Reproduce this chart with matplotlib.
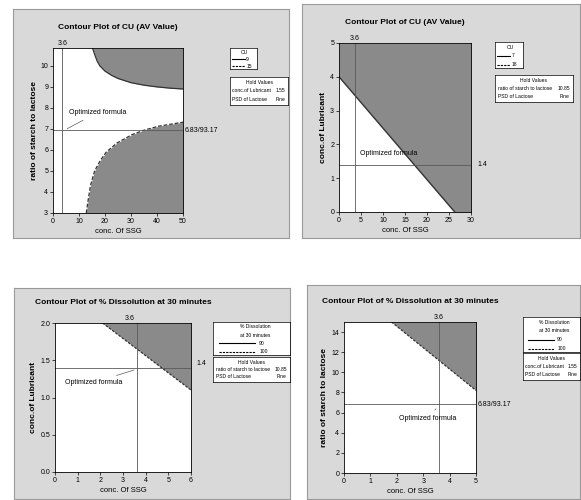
import matplotlib
matplotlib.use('Agg')
import matplotlib.pyplot as plt

W, H = 581, 500
plt.rcParams['font.family'] = ['Liberation Sans', 'DejaVu Sans']

# panel 1 - CU (AV value), ratio vs conc. of SSG
p1_upper_x = [15.2, 16, 17, 18, 20, 22.5, 25, 30, 35, 40, 45, 50]
p1_upper_y = [10.85, 10.55, 10.22, 10.0, 9.75, 9.55, 9.4, 9.2, 9.08, 9.0, 8.94, 8.9]
p1_lower_x = [12.8, 13.5, 14.4, 16, 18.2, 20.5, 24.6, 30.4, 35, 40.6, 50]
p1_lower_y = [3.0, 3.6, 4.3, 5.0, 5.5, 5.9, 6.33, 6.73, 6.94, 7.13, 7.32]

# panel 2 - CU (AV value), lubricant vs conc. of SSG
p2_bound_x = [0, 26.3, 30]
p2_bound_y = [4.0, 0.0, 0.0]

# panel 3 - dissolution, lubricant vs conc. of SSG
p3_bound_x = [2.1, 6.0]
p3_bound_y = [2.0, 1.1]

# panel 4 - dissolution, ratio vs conc. of SSG
p4_bound_x = [1.8, 5.0]
p4_bound_y = [15.0, 8.2]

opt_ssg = 3.6
opt_lub = 1.4
opt_ratio = 6.85

titles = ['Contour Plot of CU (AV Value)', 'Contour Plot of CU (AV Value)',
          'Contour Plot of % Dissolution at 30 minutes', 'Contour Plot of % Dissolution at 30 minutes']

SHADE = '#8a8a8a'
LINE = '#5a5a5a'


def box(x0, y0, x1, y1):
    return [x0 / W, 1 - y1 / H, (x1 - x0) / W, (y1 - y0) / H]


fig = plt.figure(figsize=(W / 100, H / 100), dpi=100)
fig.patch.set_facecolor('white')

# grey panel backgrounds
for b in [(13, 9, 289, 238), (302, 4, 580, 238), (14, 288, 290, 499), (307, 285, 580, 499)]:
    bg = fig.add_axes(box(*b), zorder=0)
    bg.set_facecolor('#d9d9d9')
    bg.set_xticks([])
    bg.set_yticks([])
    for s in bg.spines.values():
        s.set_color('#9a9a9a')
        s.set_linewidth(0.8)


def style(ax, title, xlabel, ylabel):
    ax.set_facecolor('white')
    ax.tick_params(labelsize=5, length=2, width=0.5, pad=1.5)
    for s in ax.spines.values():
        s.set_linewidth(0.6)
    ax.set_xlabel(xlabel, fontsize=5.5, labelpad=2)
    ax.set_ylabel(ylabel, fontsize=6, fontweight='bold', labelpad=2)
    ax.set_title(title, fontsize=6, fontweight='bold', pad=14)


def legend_box(rect, lines, hold):
    lb = fig.add_axes(box(*rect[0]), zorder=3)
    lb.set_xlim(0, 1)
    lb.set_ylim(0, 1)
    lb.set_xticks([])
    lb.set_yticks([])
    for s in lb.spines.values():
        s.set_linewidth(0.5)
    n = len(lines)
    for i, (txt, ls) in enumerate(lines):
        y = 1 - (i + 0.6) / n
        if ls:
            lb.plot([0.08, 0.55], [y, y], color='k', lw=0.8, ls=ls)
            lb.text(0.6, y, txt, fontsize=3.6, va='center', ha='left')
        else:
            lb.text(0.55, y, txt, fontsize=3.6, va='center', ha='center')
    hb = fig.add_axes(box(*rect[1]), zorder=3)
    hb.set_xlim(0, 1)
    hb.set_ylim(0, 1)
    hb.set_xticks([])
    hb.set_yticks([])
    for s in hb.spines.values():
        s.set_linewidth(0.5)
    hb.text(0.5, 0.8, 'Hold Values', fontsize=3.6, ha='center', va='center')
    for i, (k, v) in enumerate(hold):
        y = 0.5 - i * 0.3
        hb.text(0.04, y, k, fontsize=3.6, va='center', ha='left')
        hb.text(0.96, y, v, fontsize=3.6, va='center', ha='right')


# ---- panel 1
ax1 = fig.add_axes(box(53, 48, 183, 213), zorder=2)
ax1.fill_between(p1_upper_x, p1_upper_y, 10.85, color=SHADE, lw=0)
ax1.fill_between(p1_lower_x, 3, p1_lower_y, color=SHADE, lw=0)
ax1.plot(p1_upper_x, p1_upper_y, color='#333333', lw=0.9)
ax1.plot(p1_lower_x, p1_lower_y, color='#333333', lw=0.9, ls=(0, (3, 1.5)))
ax1.axvline(opt_ssg, color=LINE, lw=0.6)
ax1.plot([0, 50], [6.93, 6.93], color=LINE, lw=0.6)
ax1.set_xlim(0, 50)
ax1.set_ylim(3, 10.85)
ax1.set_xticks([0, 10, 20, 30, 40, 50])
ax1.set_yticks([3, 4, 5, 6, 7, 8, 9, 10])
ax1.text(opt_ssg, 10.9, '3.6', fontsize=5, ha='center', va='bottom')
ax1.text(50.5, 6.93, '6.83/93.17', fontsize=5, ha='left', va='center')
ax1.annotate('Optimized formula', xy=(4.5, 6.95), xytext=(6, 7.7), fontsize=5,
             arrowprops=dict(arrowstyle='-', color=LINE, lw=0.5))
style(ax1, titles[0], 'conc. Of SSG', 'ratio of starch to lactose')
legend_box([(230, 48, 257, 69), (230, 77, 288, 105)],
           [('CU', None), ('9', '-'), ('15', (0, (2, 1)))],
           [('conc.of Lubricant', '1.55'), ('PSD of Lactose', 'Fine')])

# ---- panel 2
ax2 = fig.add_axes(box(339, 43, 471, 212), zorder=2)
ax2.fill_between(p2_bound_x, p2_bound_y, 5, color=SHADE, lw=0)
ax2.plot(p2_bound_x[:2], p2_bound_y[:2], color='#333333', lw=1.0)
ax2.axvline(opt_ssg, color=LINE, lw=0.6)
ax2.plot([0, 30], [opt_lub, opt_lub], color=LINE, lw=0.6)
ax2.set_xlim(0, 30)
ax2.set_ylim(0, 5)
ax2.set_xticks([0, 5, 10, 15, 20, 25, 30])
ax2.set_yticks([0, 1, 2, 3, 4, 5])
ax2.text(opt_ssg, 5.02, '3.6', fontsize=5, ha='center', va='bottom')
ax2.text(31.5, opt_lub, '1.4', fontsize=5, ha='left', va='center')
ax2.text(4.8, 1.72, 'Optimized formula', fontsize=5, ha='left', va='center')
style(ax2, titles[1], 'conc. Of SSG', 'conc.of Lubricant')
legend_box([(495, 42, 523, 68), (495, 75, 573, 102)],
           [('CU', None), ('7', '-'), ('18', (0, (2, 1)))],
           [('ratio of starch to lactose', '10.85'), ('PSD of Lactose', 'Fine')])

# ---- panel 3
ax3 = fig.add_axes(box(55, 323, 191, 472), zorder=2)
ax3.fill_between(p3_bound_x, p3_bound_y, 2.0, color=SHADE, lw=0)
ax3.plot(p3_bound_x, p3_bound_y, color='#333333', lw=0.9, ls=(0, (2, 1.2)))
ax3.axvline(opt_ssg, color=LINE, lw=0.6)
ax3.plot([0, 6], [opt_lub, opt_lub], color=LINE, lw=0.6)
ax3.set_xlim(0, 6)
ax3.set_ylim(0, 2)
ax3.set_xticks([0, 1, 2, 3, 4, 5, 6])
ax3.set_yticks([0, 0.5, 1.0, 1.5, 2.0])
ax3.set_yticklabels(['0.0', '0.5', '1.0', '1.5', '2.0'])
ax3.text(3.3, 2.01, '3.6', fontsize=5, ha='center', va='bottom')
ax3.text(6.25, 1.45, '1.4', fontsize=5, ha='left', va='center')
ax3.annotate('Optimized formula', xy=(opt_ssg, 1.38), xytext=(0.45, 1.2), fontsize=5,
             va='center', arrowprops=dict(arrowstyle='-', color=LINE, lw=0.5))
style(ax3, titles[2], 'conc. Of SSG', 'conc.of Lubricant')
legend_box([(213, 322, 290, 355), (213, 357, 290, 382)],
           [('% Dissolution', None), ('at 30 minutes', None), ('90', '-'), ('100', (0, (2, 1)))],
           [('ratio of starch to lactose', '10.85'), ('PSD of Lactose', 'Fine')])

# ---- panel 4
ax4 = fig.add_axes(box(344, 322, 476, 473), zorder=2)
ax4.fill_between(p4_bound_x, p4_bound_y, 15, color=SHADE, lw=0)
ax4.plot(p4_bound_x, p4_bound_y, color='#333333', lw=0.9, ls=(0, (2, 1.2)))
ax4.axvline(opt_ssg, color=LINE, lw=0.6)
ax4.plot([0, 5], [opt_ratio, opt_ratio], color=LINE, lw=0.6)
ax4.set_xlim(0, 5)
ax4.set_ylim(0, 15)
ax4.set_xticks([0, 1, 2, 3, 4, 5])
ax4.set_yticks([0, 2, 4, 6, 8, 10, 12, 14])
ax4.text(opt_ssg, 15.1, '3.6', fontsize=5, ha='center', va='bottom')
ax4.text(5.05, opt_ratio, '6.83/93.17', fontsize=5, ha='left', va='center')
ax4.annotate('Optimized formula', xy=(opt_ssg - 0.05, 6.6), xytext=(2.1, 5.4), fontsize=5,
             va='center', arrowprops=dict(arrowstyle='-', color=LINE, lw=0.5))
style(ax4, titles[3], 'conc. Of SSG', 'ratio of starch to lactose')
legend_box([(523, 317, 580, 352), (523, 353, 580, 380)],
           [('% Dissolution', None), ('at 30 minutes', None), ('90', '-'), ('100', (0, (2, 1)))],
           [('conc.of Lubricant', '1.55'), ('PSD of Lactose', 'Fine')])

fig.savefig('out.png', dpi=100, facecolor='white')
